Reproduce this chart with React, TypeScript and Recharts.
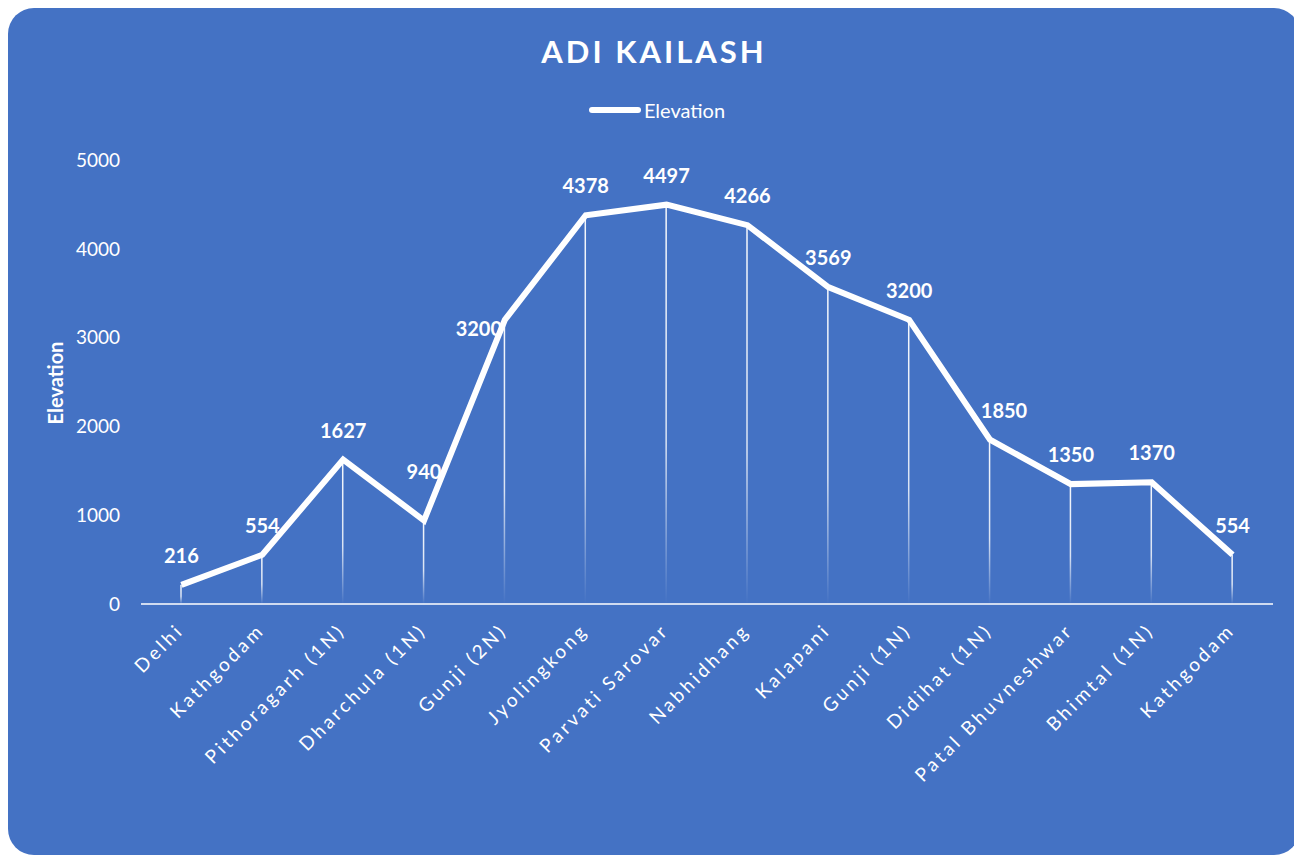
import React from "react";
import { ComposedChart, Line, Bar, XAxis, YAxis, LabelList } from "recharts";

const places = [
  "Delhi", "Kathgodam", "Pithoragarh (1N)", "Dharchula (1N)", "Gunji (2N)", "Jyolingkong",
  "Parvati Sarovar", "Nabhidhang", "Kalapani", "Gunji (1N)", "Didihat (1N)",
  "Patal Bhuvneshwar", "Bhimtal (1N)", "Kathgodam",
];
const elevation = [216, 554, 1627, 940, 3200, 4378, 4497, 4266, 3569, 3200, 1850, 1350, 1370, 554];
const yTicks = [0, 1000, 2000, 3000, 4000, 5000];

const data = places.map((place, i) => ({ place, elevation: elevation[i] }));

const FONT = "Lato, 'Open Sans', sans-serif";
const BG = "#4472C4";

const XTick = (props: any) => {
  const { x, y, payload } = props;
  return (
    <text
      x={x}
      y={y}
      transform={`rotate(-45, ${x}, ${y})`}
      textAnchor="end"
      fill="#ffffff"
      fontSize={19}
      fontFamily={FONT}
      style={{ letterSpacing: 3.2 }}
      dy={5}
    >
      {payload.value}
    </text>
  );
};

const DropLine = (props: any) => {
  const { x, y, width, height } = props;
  if (height == null || height <= 0) return null;
  return <rect x={x + width / 2 - 0.75} y={y} width={1.5} height={height} fill="url(#dropFade)" />;
};

// keep labels off the line: lift at real dips, move aside on steep segments
const PointLabel = (props: any) => {
  const { x, y, value, index } = props;
  const prev = elevation[index - 1];
  const next = elevation[index + 1];
  let dx = 0;
  let dy = -30;
  if (prev != null && next != null && prev - value > 300 && next - value > 300) {
    dy = -50;
  } else if (prev != null && next != null && value - prev > 1500 && next > value) {
    dx = -26;
    dy = 8;
  } else if (prev != null && prev - value > 1000) {
    dx = 14;
  }
  return (
    <text
      x={x + dx}
      y={y + dy}
      textAnchor="middle"
      dominantBaseline="central"
      fill="#ffffff"
      fontSize={20}
      fontWeight={700}
      fontFamily={FONT}
    >
      {value}
    </text>
  );
};

export default function App() {
  return (
    <div
      style={{
        position: "relative",
        width: 1292,
        height: 847,
        background: BG,
        borderRadius: 26,
        overflow: "hidden",
        fontFamily: FONT,
      }}
    >
      <div
        style={{
          position: "absolute",
          top: 24,
          left: 0,
          width: "100%",
          textAlign: "center",
          color: "#fff",
          fontWeight: 700,
          fontSize: 31,
          letterSpacing: 3,
        }}
      >
        ADI KAILASH
      </div>
      <div
        style={{
          position: "absolute",
          top: 90,
          left: 0,
          width: "100%",
          display: "flex",
          justifyContent: "center",
          alignItems: "center",
          color: "#fff",
          fontSize: 20,
          paddingLeft: 6,
          boxSizing: "border-box",
        }}
      >
        <span style={{ display: "inline-block", width: 52, height: 6, background: "#fff", borderRadius: 3, marginRight: 3 }} />
        <span>Elevation</span>
      </div>
      <div
        style={{
          position: "absolute",
          left: 47,
          top: 375,
          transform: "translate(-50%, -50%) rotate(-90deg)",
          color: "#fff",
          fontWeight: 700,
          fontSize: 20,
          whiteSpace: "nowrap",
        }}
      >
        Elevation
      </div>
      <div style={{ position: "absolute", left: 0, top: 0 }}>
        <ComposedChart width={1292} height={847} data={data} margin={{ top: 152, right: 27, bottom: 0, left: 73 }}>
          <defs>
            <linearGradient id="dropFade" x1="0" y1="0" x2="0" y2="1">
              <stop offset="0%" stopColor="#ffffff" stopOpacity={0.95} />
              <stop offset="60%" stopColor="#ffffff" stopOpacity={0.8} />
              <stop offset="100%" stopColor="#ffffff" stopOpacity={0} />
            </linearGradient>
          </defs>
          <XAxis
            dataKey="place"
            interval={0}
            height={251}
            tickLine={false}
            tickMargin={18}
            axisLine={{ stroke: "#ffffff", strokeWidth: 1.5 }}
            tick={<XTick />}
          />
          <YAxis
            width={60}
            domain={[0, 5000]}
            ticks={yTicks}
            axisLine={false}
            tickLine={false}
            tickMargin={15}
            tick={{ fill: "#ffffff", fontSize: 19, fontFamily: FONT }}
          />
          <Bar dataKey="elevation" barSize={10} shape={<DropLine />} isAnimationActive={false} />
          <Line
            dataKey="elevation"
            type="linear"
            stroke="#ffffff"
            strokeWidth={6}
            dot={false}
            isAnimationActive={false}
          >
            <LabelList dataKey="elevation" content={<PointLabel />} />
          </Line>
        </ComposedChart>
      </div>
    </div>
  );
}
